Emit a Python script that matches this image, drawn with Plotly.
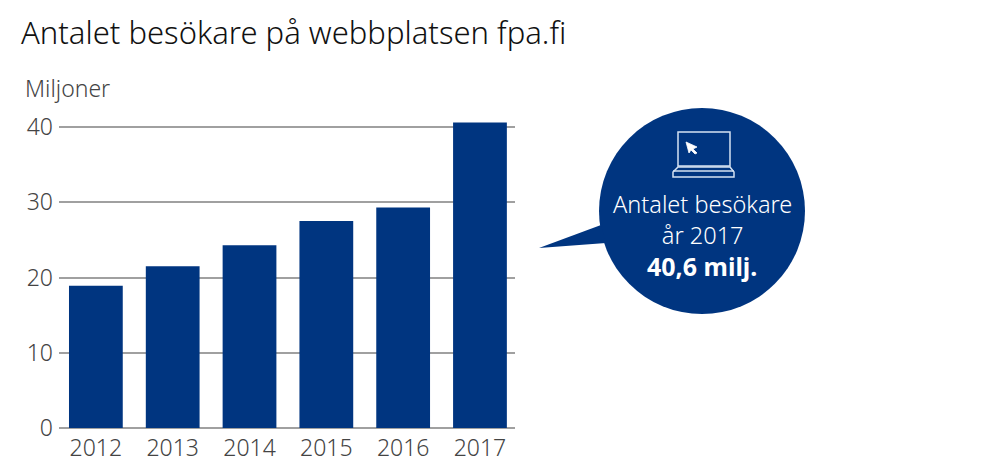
import plotly.graph_objects as go

W, H = 1005, 474
L, R, T, B = 59, 515, 115, 428

years = ["2012", "2013", "2014", "2015", "2016", "2017"]
visitors = [18.9, 21.5, 24.3, 27.5, 29.3, 40.6]
y_ticks = [0, 10, 20, 30, 40]
TITLE = "Antalet besökare på webbplatsen fpa.fi"
UNIT = "Miljoner"
CALLOUT_LINES = ["Antalet besökare", "år 2017", "40,6 milj."]

NAVY = "#003580"
TEXT = "#444444"
GRID = "#a0a0a0"
ICON = "#d5e2f2"
FONT = "Noto Sans"


def px(x):
    return (x - L) / (R - L)


def py(y):
    return (B - y) / (B - T)


def path(points, close=True):
    s = "M " + " L ".join(f"{px(a):.5f},{py(b):.5f}" for a, b in points)
    return s + (" Z" if close else "")


def shape_path(points, fill=None, line=None, width=1.5, close=True):
    return dict(type="path", xref="paper", yref="paper", path=path(points, close),
                fillcolor=fill or "rgba(0,0,0,0)",
                line=dict(color=line or "rgba(0,0,0,0)", width=width if line else 0),
                layer="above")


shapes = [
    dict(type="circle", xref="paper", yref="paper", x0=px(599), x1=px(805), y0=py(314), y1=py(108),
         fillcolor=NAVY, line=dict(width=0), layer="above"),
    shape_path([(539, 248), (601, 225), (606, 243)], fill=NAVY),
    shape_path([(678, 166), (678, 132), (730, 132), (730, 166)], line=ICON),
    shape_path([(678, 167), (673, 172), (673, 177), (734, 177), (734, 172), (730, 167)], line=ICON),
    shape_path([(673, 171), (734, 171)], line=ICON, close=False),
    shape_path([(686, 142), (697, 147), (693, 149), (697, 153), (695, 154), (691, 150), (689, 153)], fill="#ffffff", line="#ffffff", width=0.8),
]

fig = go.Figure(go.Bar(x=years, y=visitors, marker=dict(color=NAVY, line=dict(width=0)),
                       width=0.7, hoverinfo="skip"))

annotations = [
    dict(text=TITLE, x=px(19), y=py(32), font=dict(size=31, color="#111111", family=FONT, weight=300), xanchor="left"),
    dict(text=UNIT, x=px(23), y=py(88), font=dict(size=23, color=TEXT, family=FONT, weight=300), xanchor="left"),
    dict(text=CALLOUT_LINES[0] + "<br>" + CALLOUT_LINES[1], x=px(702), y=py(219),
         font=dict(size=23.5, color="#ffffff", family=FONT, weight=300), xanchor="center"),
    dict(text="<b>" + CALLOUT_LINES[2] + "</b>", x=px(702), y=py(266),
         font=dict(size=25, color="#ffffff", family=FONT), xanchor="center"),
]
for a in annotations:
    a.update(xref="paper", yref="paper", yanchor="middle", showarrow=False)

fig.update_layout(
    width=W, height=H, autosize=False, margin=dict(l=L, r=W - R, t=T, b=H - B, pad=0),
    paper_bgcolor="white", plot_bgcolor="white", showlegend=False,
    font=dict(family=FONT, color=TEXT), shapes=shapes, annotations=annotations,
    xaxis=dict(type="category", range=[-0.48, 5.456], showgrid=False, showline=False, zeroline=False,
               ticks="", tickfont=dict(size=23, color=TEXT, family=FONT, weight=300), ticklabelstandoff=4),
    yaxis=dict(range=[0, 41.6], tickvals=y_ticks, showgrid=True, gridcolor=GRID, gridwidth=1.5,
               zeroline=True, zerolinecolor=GRID, zerolinewidth=1.5, showline=False, ticks="",
               tickfont=dict(size=23, color=TEXT, family=FONT, weight=300), ticklabelstandoff=5),
)
fig.write_html("out.html", config=dict(displayModeBar=False),
               post_script="document.body.style.margin='0';")
